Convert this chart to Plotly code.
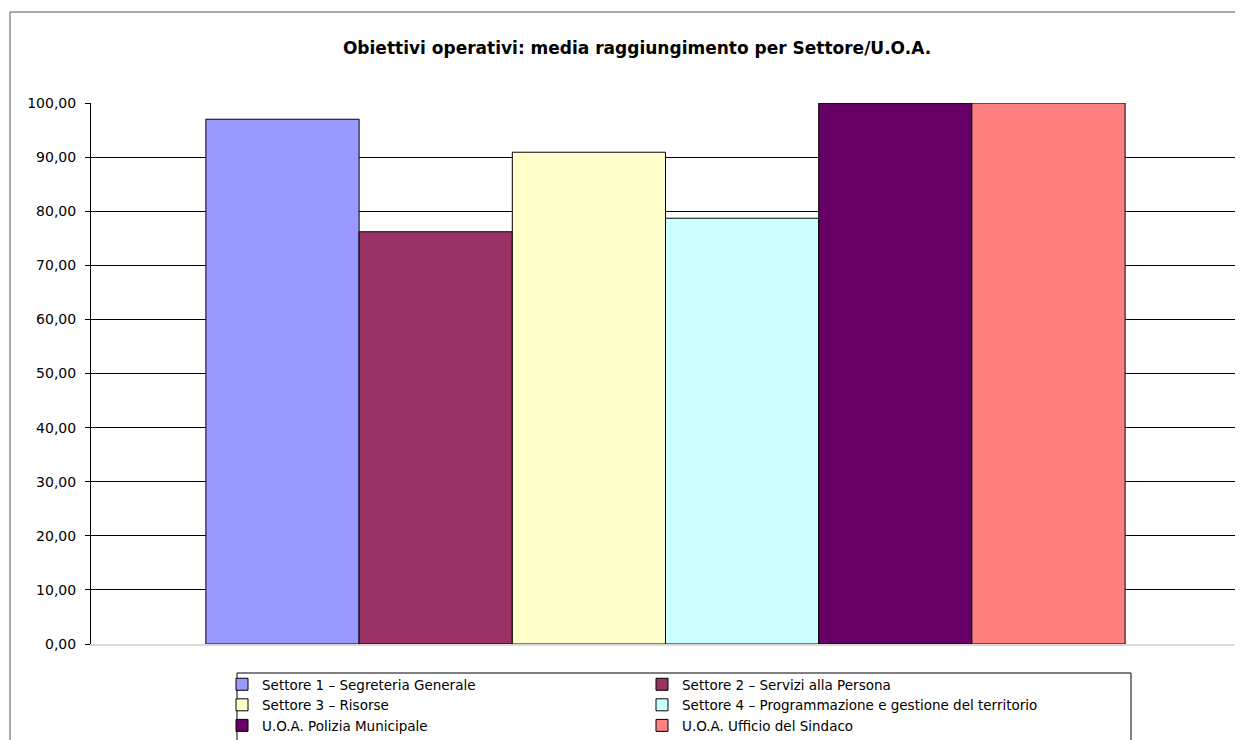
import plotly.graph_objects as go

categories = ["Obiettivi operativi"]
series_names = [
    "Settore 1 – Segreteria Generale",
    "Settore 2 – Servizi alla Persona",
    "Settore 3 – Risorse",
    "Settore 4 – Programmazione e gestione del territorio",
    "U.O.A. Polizia Municipale",
    "U.O.A. Ufficio del Sindaco",
]
series_values = [97.0, 76.2, 90.9, 78.7, 100.0, 100.0]
colors = ["#9999FF", "#993366", "#FFFFCC", "#CCFFFF", "#660066", "#FF8080"]
y_ticks = [0, 10, 20, 30, 40, 50, 60, 70, 80, 90, 100]
grid_ticks = [10, 20, 30, 40, 50, 60, 70, 80, 90]

OFF = 8  # page body margin
W, H = 1243 - OFF, 770
ml, mr, mt = 91 - OFF, 3, 103 - OFF
plot_bottom = 644 - OFF
mb = H - plot_bottom
pw = W - ml - mr
ph = plot_bottom - mt


def px_x(page_x):
    return (page_x - OFF - ml) / pw


def px_y(page_y):
    return (plot_bottom - (page_y - OFF)) / ph


FONT = "DejaVu Sans, Verdana, sans-serif"

fig = go.Figure()
for name, val, col in zip(series_names, series_values, colors):
    fig.add_trace(go.Bar(
        x=categories, y=[val], name=name,
        marker=dict(color=col, line=dict(color="#000000", width=1)),
    ))

fig.add_trace(go.Scatter(x=categories, y=[None], yaxis="y2", showlegend=False,
                         hoverinfo="skip", mode="markers"))

fig.update_layout(
    width=W, height=H,
    margin=dict(l=ml, r=mr, t=mt, b=mb, autoexpand=False),
    paper_bgcolor="white", plot_bgcolor="white",
    barmode="group", bargap=0.2, bargroupgap=0,
    separators=",.",
    font=dict(family=FONT, size=13, color="#000000"),
    title=dict(
        text="<b>Obiettivi operativi: media raggiungimento per Settore/U.O.A.</b>",
        font=dict(size=17, family=FONT),
        x=(637 - OFF) / W, xanchor="center", xref="container",
        y=1 - (48 - OFF) / H, yanchor="middle", yref="container",
    ),
    xaxis=dict(showticklabels=False, showgrid=False, zeroline=False,
               showline=True, linecolor="#d9d9d9", linewidth=2, ticks=""),
    yaxis=dict(range=[0, 100], tickvals=y_ticks, tickformat=".2f",
               showgrid=False, zeroline=False, showline=True,
               linecolor="#000000", linewidth=1, ticks="outside",
               ticklen=5, tickcolor="#000000", tickfont=dict(size=14),
               ticklabelstandoff=6),
    yaxis2=dict(range=[0, 100], overlaying="y", side="left",
                tickvals=grid_ticks, showticklabels=False, ticks="",
                showgrid=True, gridcolor="#000000", gridwidth=1,
                zeroline=False, showline=False),
    legend=dict(
        orientation="h", entrywidth=375, entrywidthmode="pixels",
        x=px_x(222), xanchor="left",
        y=px_y(669), yanchor="top",
        borderwidth=0, bgcolor="rgba(0,0,0,0)",
        font=dict(size=13.5), traceorder="normal",
        itemclick=False,
    ),
    shapes=[
        dict(type="rect", xref="paper", yref="paper",
             x0=px_x(10), x1=1.05, y0=-0.5, y1=px_y(12),
             line=dict(color="#555555", width=1), fillcolor="rgba(0,0,0,0)",
             layer="below"),
        dict(type="rect", xref="paper", yref="paper",
             x0=px_x(237), x1=px_x(1131), y0=-0.5, y1=px_y(673),
             line=dict(color="#000000", width=1), fillcolor="rgba(0,0,0,0)",
             layer="below"),
    ],
)

fig.write_html("out.html")
